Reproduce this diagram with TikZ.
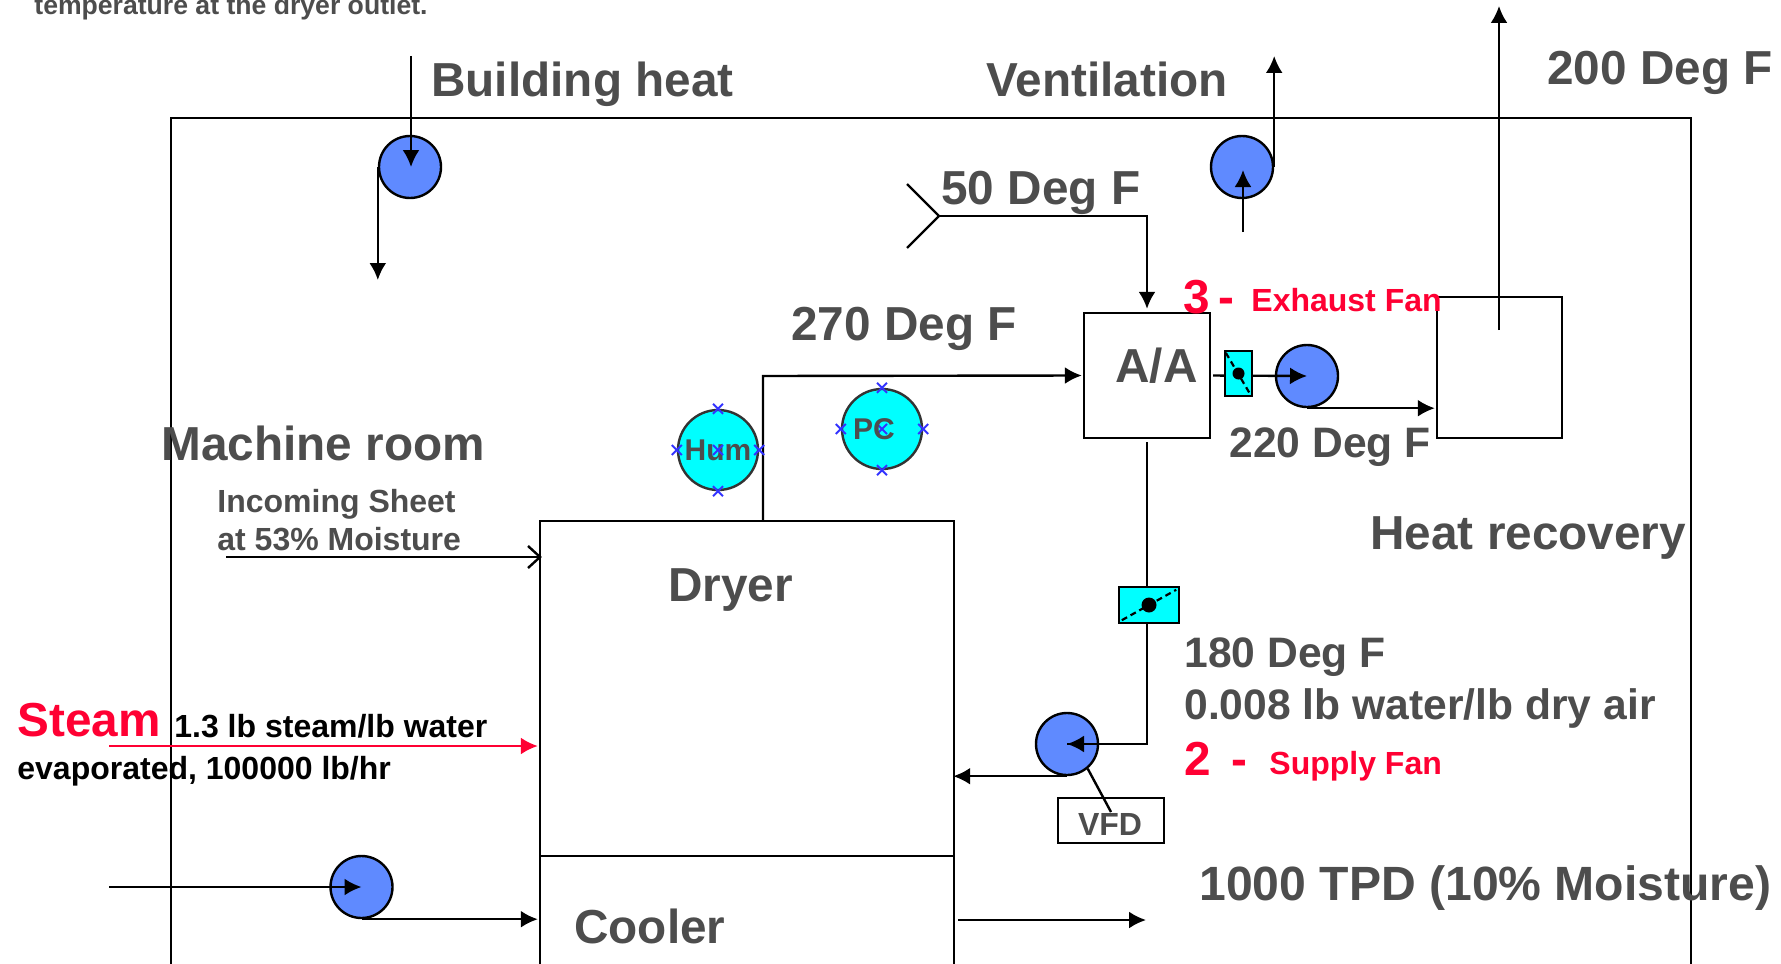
\documentclass[tikz,border=0pt]{standalone}
\usepackage{fontspec}
\setmainfont{Liberation Sans}
\usetikzlibrary{arrows.meta,shapes.misc}
\definecolor{txtgray}{HTML}{4D4D4D}
\definecolor{fanblue}{HTML}{5F8AFF}
\definecolor{hotred}{HTML}{FF0033}
\definecolor{pcyan}{HTML}{00FFFF}
\tikzstyle{txt} = [anchor=base west, inner sep=0pt, text=txtgray, font=\bfseries\fontsize{23.85}{28}\selectfont]
\tikzstyle{midtxt} = [txt, font=\bfseries\fontsize{21.3}{25}\selectfont]
\tikzstyle{smalltxt} = [txt, font=\bfseries\fontsize{16}{19}\selectfont]
\tikzstyle{box} = [draw=black, line width=1.2pt, inner sep=0pt]
\tikzstyle{fan} = [circle, draw=black, line width=1.2pt, fill=fanblue, minimum size=31pt, inner sep=0pt]
\tikzstyle{gauge} = [circle, draw=black!80, line width=1.2pt, fill=pcyan, minimum size=40pt, inner sep=0pt, text=txtgray, font=\bfseries\fontsize{15}{18}\selectfont]
\tikzstyle{handle} = [cross out, draw=blue!80, line width=1pt, minimum size=5pt, inner sep=0pt, outer sep=0pt]
\tikzstyle{damper} = [box, fill=pcyan]
\tikzstyle{vane} = [line width=1.1pt, densely dashed]
\tikzstyle{dot} = [circle, fill=black, minimum size=6pt, inner sep=0pt]
\tikzstyle{pipe} = [line width=1.2pt]
\tikzstyle{flow} = [pipe, -{Latex[length=8.5pt,width=8.5pt]}]
\newcommand{\handles}[1]{
    \foreach \a in {north,south,east,west,center} {
        \node [handle] (#1-\a) at (#1.\a) {};
    }
}

\begin{document}
\begin{tikzpicture}[x=0.5pt, y=-0.5pt]
    \clip (0,0) rectangle (1781,963);
    \fill [white] (0,0) rectangle (1781,963);

    % boxes
    \node [box, minimum width=760pt, minimum height=441pt] (frame) at (931,559) {};
    \node [box, minimum width=207pt, minimum height=167.5pt] (dryer) at (747,688.5) {};
    \node [box, minimum width=207pt, minimum height=70pt] (cooler) at (747,926) {};
    \node [box, minimum width=63pt, minimum height=62.5pt] (aa) at (1147,375.5) {};
    \node [box, minimum width=62.5pt, minimum height=70.5pt] (recovery) at (1499.5,367.5) {};
    \node [box, minimum width=53pt, minimum height=22.5pt] (vfd) at (1111,820.5) {};

    % fans
    \node [fan] (bldg) at (410,167) {};
    \node [fan] (vent) at (1242,167) {};
    \node [fan] (exhaust) at (1307,376) {};
    \node [fan] (supply) at (1067,744) {};
    \node [fan] (cool) at (361.5,887) {};

    % free ends
    \coordinate (bldg_top) at (411,56);
    \coordinate (bldg_out) at (379,280);
    \coordinate (vent_top) at (1275,56);
    \coordinate (vent_in) at (1243,232);
    \coordinate (fresh_a) at (907,184);
    \coordinate (fresh_b) at (939,216);
    \coordinate (fresh_c) at (907,248);
    \coordinate (stack_in) at (1499,330);
    \coordinate (stack_top) at (1499,6);
    \coordinate (hot) at (763,376);
    \coordinate (sheet_in) at (226,557);
    \coordinate (steam_in) at (109,746);
    \coordinate (cool_in) at (109,887);
    \coordinate (product) at (1146,920);
    \coordinate (vfd_end) at (1111,812);

    % connectors
    \draw [flow] (bldg_top) -- (411,167);
    \draw [flow] (bldg.west) -- (bldg.west |- bldg_out);
    \draw [flow] (vent.east) -- (vent.east |- vent_top);
    \draw [flow] (vent_in) -- (1243,170);
    \draw [pipe] (fresh_a) -- (fresh_b) -- (fresh_c);
    \draw [flow, shorten >=1.5pt] (fresh_b) -| (aa.north);
    \draw [flow, shorten >=0.5pt] (hot |- dryer.north) -- (hot) -- (aa.west);
    \draw [flow, shorten <=1pt] (aa.east) -- (exhaust.center);
    \draw [flow, shorten >=0.5pt] (exhaust.south) -- (exhaust.south -| recovery.west);
    \draw [flow] (stack_in) -- (stack_top);
    \draw [pipe, shorten <=1.5pt] (aa.south) |- (supply.center);
    \draw [flow] (aa.south |- supply.center) -- (supply.center);
    \draw [flow, shorten >=-1pt] (supply.south) -- (supply.south -| dryer.east);
    \draw [pipe] (supply.-50) -- (vfd_end);
    \draw [pipe, shorten >=-1.5pt, -{Straight Barb[length=6pt,width=11pt]}] (sheet_in) -- (dryer.west |- sheet_in);
    \draw [flow, draw=hotred, fill=hotred, shorten >=0.5pt] (steam_in) -- (dryer.west |- steam_in);
    \draw [flow] (cool_in) -- (cool.center);
    \draw [flow, shorten >=0.5pt] (cool.south) -- (cool.south -| dryer.west);
    \draw [flow, shorten <=1.5pt] (cooler.east |- product) -- (product);

    % dampers
    \node [damper, minimum width=13.5pt, minimum height=22.5pt] (exdamp) at (1238.5,373.5) {};
    \draw [vane] ([shift={(2,3)}]exdamp.north west) -- ([shift={(-3,-3)}]exdamp.south east);
    \node [dot] (exdot) at (exdamp.center) {};
    \node [damper, minimum width=30pt, minimum height=18pt] (sudamp) at (1149,605) {};
    \draw [vane] ([shift={(4,-4)}]sudamp.south west) -- ([shift={(-4,4)}]sudamp.north east);
    \node [dot, minimum size=7.5pt] (sudot) at (sudamp.center) {};

    % instruments
    \node [gauge] (hum) at (718,450) {Hum};
    \handles{hum}
    \node [gauge] (pc) at (882,429) {};
    \handles{pc}
    \node [anchor=center, inner sep=0pt, text=txtgray, font=\bfseries\fontsize{15}{18}\selectfont] (pc_txt) at (874,429) {PC};

    % texts
    \node [smalltxt, font=\bfseries\fontsize{13.3}{16}\selectfont] (note) at (34,15) {temperature at the dryer outlet.};
    \node [txt] (bldg_txt) at (431,97) {Building heat};
    \node [txt] (vent_txt) at (986,97) {Ventilation};
    \node [txt] (t200) at (1547,85) {200 Deg F};
    \node [txt] (t50) at (941,204) {50 Deg F};
    \node [txt] (t270) at (791,340) {270 Deg F};
    \node [txt, text=hotred] (three) at (1183,313) {3\kern-2.5pt\ -};
    \node [smalltxt, text=hotred] (exfan_txt) at (1251,311) {Exhaust Fan};
    \node [txt] (aa_txt) at (1115,382) {A/A};
    \node [midtxt] (t220) at (1229,457) {220 Deg F};
    \node [txt] (room) at (161,460) {Machine room};
    \node [smalltxt] (sheet_a) at (217,512) {Incoming Sheet};
    \node [smalltxt] (sheet_b) at (217,550) {at 53\% Moisture};
    \node [txt] (dryer_txt) at (668,601) {Dryer};
    \node [txt] (recovery_txt) at (1370,549) {Heat recovery};
    \node [midtxt] (t180) at (1184,667) {180 Deg F};
    \node [midtxt] (ratio) at (1184,719) {0.008 lb water/lb dry air};
    \node [txt, text=hotred] (two) at (1184,775) {2\ \kern-3pt\ -};
    \node [smalltxt, text=hotred] (sufan_txt) at (1269,774) {Supply Fan};
    \node [anchor=center, inner sep=0pt, text=txtgray, font=\bfseries\fontsize{16}{19}\selectfont] (vfd_txt) at (1110,824) {VFD};
    \node [txt, text=hotred] (steam) at (17,736) {Steam};
    \node [smalltxt, text=black] (steam_a) at (174,737) {1.3 lb steam/lb water};
    \node [smalltxt, text=black] (steam_b) at (17,779) {evaporated, 100000 lb/hr};
    \node [txt] (cooler_txt) at (574,943) {Cooler};
    \node [txt, font=\bfseries\fontsize{24.05}{28}\selectfont] (tpd) at (1199,900) {1000 TPD (10\% Moisture)};
\end{tikzpicture}
\end{document}
